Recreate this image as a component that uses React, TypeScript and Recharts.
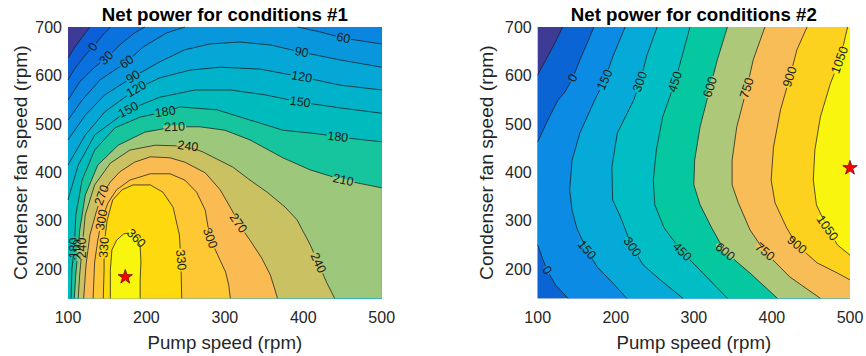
import { ScatterChart, Scatter, XAxis, YAxis, ZAxis } from 'recharts'

type Pt = [number, number]
type Lbl = [number, number, string, number]

const xTicks = [100, 200, 300, 400, 500]
const yTicks = [200, 300, 400, 500, 600, 700]
const X0 = 100
const X1 = 500
const Y0 = 140
const Y1 = 700

// ---- conditions #1 : contour lines (pump rpm, fan rpm)
const levels1 = [-30, 0, 30, 60, 90, 120, 150, 180, 210, 240, 270, 300, 330, 360]
const c1m30: Pt[] = [[100, 636], [109, 659], [119, 681], [128, 700]]
const c1p0: Pt[] = [[100, 591], [109, 615], [122, 642], [132, 659], [143, 681], [154, 700]]
const c1p30: Pt[] = [[100, 549], [115, 587], [134, 617], [149, 636], [166, 663], [185, 688], [198, 700]]
const c1p60a: Pt[] = [[100, 508], [118, 549], [141, 591], [175, 628], [196, 659], [226, 688], [249, 700]]
const c1p60b: Pt[] = [[393, 700], [421, 690], [451, 677], [500, 665]]
const c1p90: Pt[] = [[100, 467], [122, 518], [147, 560], [183, 597], [217, 628], [249, 653], [281, 665], [319, 669], [358, 663], [398, 648], [447, 632], [500, 617]]
const c1p120: Pt[] = [[100, 415], [122, 477], [147, 525], [187, 572], [217, 595], [256, 611], [294, 617], [345, 613], [398, 597], [447, 580], [500, 570]]
const c1p150: Pt[] = [[100, 343], [113, 415], [134, 477], [177, 529], [217, 555], [262, 570], [307, 570], [351, 560], [396, 545], [447, 533], [500, 522]]
const c1p180: Pt[] = [[104, 140], [105, 200], [108, 244], [110, 312], [118, 384], [134, 446], [160, 492], [192, 514], [224, 525], [243, 535], [290, 529], [332, 508], [374, 487], [421, 479], [444, 473], [500, 463]]
const c1p210: Pt[] = [[108, 140], [110, 190], [113, 240], [115, 281], [122, 353], [138, 415], [164, 456], [198, 483], [236, 494], [268, 494], [300, 487], [332, 467], [374, 430], [409, 405], [451, 384], [500, 368]]
const c1p240: Pt[] = [[113, 140], [115, 190], [118, 244], [122, 312], [134, 374], [154, 419], [179, 446], [211, 456], [253, 454], [272, 442], [310, 411], [332, 384], [354, 359], [377, 328], [392, 302], [409, 250], [419, 213], [430, 172], [440, 140]]
const c1p270: Pt[] = [[120, 140], [123, 209], [128, 271], [136, 318], [143, 353], [154, 380], [166, 401], [185, 421], [205, 432], [230, 430], [249, 421], [275, 399], [294, 364], [309, 322], [317, 295], [332, 260], [347, 223], [358, 188], [364, 157], [367, 140]]
const c1p300: Pt[] = [[132, 140], [134, 215], [138, 260], [143, 302], [151, 337], [162, 364], [179, 384], [205, 397], [230, 397], [249, 384], [264, 359], [275, 322], [281, 264], [291, 229], [301, 194], [305, 167], [307, 140]]
const c1p330: Pt[] = [[145, 140], [146, 198], [146, 250], [150, 302], [157, 343], [169, 364], [183, 374], [205, 374], [221, 359], [234, 328], [242, 271], [244, 219], [245, 140]]
const c1p360: Pt[] = [[154, 140], [154, 198], [156, 240], [162, 260], [171, 273], [179, 275], [187, 264], [192, 248], [193, 215], [192, 178], [192, 140]]
const labels1: Lbl[] = [
  [132, 659, '0', -55], [149, 636, '30', -45], [175, 628, '60', -35], [183, 597, '90', -33],
  [187, 572, '120', -30], [177, 529, '150', -28], [224, 525, '180', -8], [236, 494, '210', -2],
  [253, 454, '240', 8], [451, 677, '60', 12], [398, 648, '90', 12], [398, 597, '120', 10],
  [396, 545, '150', 8], [444, 473, '180', 6], [451, 384, '210', 12], [419, 213, '240', 65],
  [317, 295, '270', 55], [281, 264, '300', 70], [244, 219, '330', 85], [187, 264, '360', 45],
  [108, 244, '180', -90], [113, 240, '210', -90], [118, 244, '240', -90], [143, 353, '270', -70],
  [143, 302, '300', -80], [146, 245, '330', -85],
]
const star1 = [{ x: 173, y: 184 }]
const colors1 = ['#3e3b97', '#0c5fd6', '#0a72de', '#0a85e0', '#0897dd', '#04a7d6', '#00b3cb', '#00bbbd',
  '#16c59e', '#9dc87b', '#cac163', '#fbbb53', '#fec834', '#fdd90d', '#f8f50e']

// ---- conditions #2
const levels2 = [-150, 0, 150, 300, 450, 600, 750, 900, 1050]
const c2m150: Pt[] = [[100, 601], [109, 628], [122, 667], [132, 700]]
const c2p0a: Pt[] = [[172, 700], [164, 669], [154, 632], [145, 595], [135, 566], [126, 549], [113, 508], [100, 463]]
const c2p0b: Pt[] = [[100, 250], [106, 223], [112, 198], [123, 167], [139, 140]]
const c2p150: Pt[] = [[212, 700], [196, 638], [186, 591], [173, 549], [154, 481], [144, 425], [141, 364], [144, 322], [150, 285], [163, 240], [176, 205], [196, 172], [214, 140]]
const c2p300: Pt[] = [[253, 700], [240, 642], [231, 587], [223, 549], [202, 481], [195, 411], [196, 343], [205, 312], [221, 246], [235, 209], [257, 178], [286, 140]]
const c2p450: Pt[] = [[295, 700], [286, 646], [276, 587], [260, 514], [252, 446], [248, 384], [250, 333], [262, 285], [285, 236], [308, 198], [343, 140]]
const c2p600: Pt[] = [[343, 700], [330, 632], [321, 576], [308, 494], [301, 425], [300, 374], [308, 333], [323, 285], [340, 236], [372, 192], [407, 140]]
const c2p750: Pt[] = [[391, 700], [376, 632], [368, 574], [355, 494], [349, 425], [349, 374], [357, 337], [372, 281], [391, 236], [423, 184], [462, 140]]
const c2p900: Pt[] = [[445, 700], [432, 653], [423, 597], [411, 529], [402, 452], [399, 384], [404, 337], [419, 285], [432, 250], [458, 213], [484, 192], [500, 178]]
const c2p1050: Pt[] = [[497, 700], [487, 632], [475, 584], [462, 514], [455, 446], [453, 384], [457, 333], [471, 285], [484, 250], [500, 229]]
const labels2: Lbl[] = [
  [145, 595, '0', -60], [186, 591, '150', -65], [231, 587, '300', -70], [276, 587, '450', -72],
  [321, 576, '600', -72], [368, 574, '750', -72], [423, 597, '900', -72], [487, 632, '1050', -70],
  [112, 198, '0', 55], [163, 240, '150', 50], [221, 246, '300', 55], [285, 236, '450', 45],
  [340, 236, '600', 40], [391, 236, '750', 40], [432, 250, '900', 40], [471, 285, '1050', 55],
]
const star2 = [{ x: 500, y: 409 }]
const colors2 = ['#3e3b97', '#0b64d4', '#0b8be4', '#06aad8', '#00bec4', '#05c8a0', '#aec87a', '#f8bd56', '#fdd21f', '#f9f50f']

const box: Pt[] = [[X0, Y0], [X0, Y1], [X1, Y1], [X1, Y0]]

// filled areas = region above each level, painted from low to high
const fills1: Pt[][] = [
  box,
  [...c1m30, [X1, Y1], [X1, Y0], [X0, Y0]],
  [...c1p0, [X1, Y1], [X1, Y0], [X0, Y0]],
  [...c1p30, [X1, Y1], [X1, Y0], [X0, Y0]],
  [...c1p60a, ...c1p60b, [X1, Y0], [X0, Y0]],
  [...c1p90, [X1, Y0], [X0, Y0]],
  [...c1p120, [X1, Y0], [X0, Y0]],
  [...c1p150, [X1, Y0], [X0, Y0]],
  [...c1p180, [X1, Y0]],
  [...c1p210, [X1, Y0]],
  c1p240, c1p270, c1p300, c1p330, c1p360,
]
const lines1 = [c1m30, c1p0, c1p30, c1p60a, c1p60b, c1p90, c1p120, c1p150, c1p180, c1p210, c1p240, c1p270, c1p300, c1p330, c1p360]

const fills2: Pt[][] = [
  box,
  [...c2m150, [X1, Y1], [X1, Y0], [X0, Y0]],
  [...c2p0a, ...c2p0b, [X1, Y0], [X1, Y1]],
  [...c2p150, [X1, Y0], [X1, Y1]],
  [...c2p300, [X1, Y0], [X1, Y1]],
  [...c2p450, [X1, Y0], [X1, Y1]],
  [...c2p600, [X1, Y0], [X1, Y1]],
  [...c2p750, [X1, Y0], [X1, Y1]],
  [...c2p900, [X1, Y1]],
  [...c2p1050, [X1, Y1]],
]
const lines2 = [c2m150, c2p0a, c2p0b, c2p150, c2p300, c2p450, c2p600, c2p750, c2p900, c2p1050]

const toXY = (pts: Pt[]) => pts.map(([x, y]) => ({ x, y }))
const NoDot = () => <g />
const axisColor = '#262626'

function makeLabel(levels: number[], colors: string[]) {
  return (props: any) => {
    const { cx, cy } = props
    const p = props.payload || props
    const w = p.t.length * 6.9 + 2
    const bg = colors[levels.indexOf(Number(p.t)) + 1]
    return (
      <g transform={`rotate(${p.a} ${cx} ${cy})`}>
        <rect x={cx - w / 2} y={cy - 1.5} width={w} height={3} fill={bg} />
        <text x={cx} y={cy} textAnchor="middle" dominantBaseline="central" fontSize={12.5} fill="#1a1a1a">
          {p.t}
        </text>
      </g>
    )
  }
}

// rotated y-axis title, drawn by hand so it is never wrapped
function yTitle(dx: number) {
  return (props: any) => {
    const vb = props.viewBox || {}
    const x = vb.x + dx
    const y = vb.y + vb.height / 2
    return (
      <text
        x={x} y={y} transform={`rotate(-90 ${x} ${y})`} textAnchor="middle" dy="0.355em"
        fontSize={19.2} fill={axisColor}
      >
        Condenser fan speed (rpm)
      </text>
    )
  }
}

type PanelProps = {
  title: string
  fills: Pt[][]
  lines: Pt[][]
  labels: Lbl[]
  levels: number[]
  colors: string[]
  star: { x: number; y: number }[]
  left: number
  right: number
  labelOffset: number
}

function Panel({ title, fills, lines, labels, levels, colors, star, left, right, labelOffset }: PanelProps) {
  const plotLeft = left + 60
  const plotWidth = 433 - plotLeft - right
  return (
    <div style={{ position: 'relative', width: 433, height: 356 }}>
      <div
        style={{
          position: 'absolute', top: 6, left: plotLeft, width: plotWidth, textAlign: 'center',
          fontSize: 18.7, lineHeight: '18.7px', fontWeight: 'bold', color: '#000', whiteSpace: 'nowrap',
        }}
      >
        {title}
      </div>
      <ScatterChart width={433} height={356} margin={{ top: 27, right, bottom: 27.7, left }}>
        <XAxis
          type="number" dataKey="x" domain={[X0, X1]} ticks={xTicks} axisLine={false} tickLine={false}
          tickSize={0} tickMargin={13} tick={{ fontSize: 16, fill: axisColor }} height={30}
          label={{ value: 'Pump speed (rpm)', position: 'bottom', offset: 7, fontSize: 18.7, fill: axisColor }}
        />
        <YAxis
          type="number" dataKey="y" domain={[Y0, Y1]} ticks={yTicks} axisLine={false} tickLine={false}
          tickSize={0} tickMargin={6} tick={{ fontSize: 16, fill: axisColor }} width={60}
          label={{ position: 'insideLeft', content: yTitle(labelOffset) }}
        />
        <ZAxis range={[90, 90]} />
        {fills.map((pts, i) => (
          <Scatter
            key={`f${i}`} data={toXY(pts)} fill={colors[i]} shape={NoDot}
            line={{ fill: colors[i], stroke: 'none' }} isAnimationActive={false}
          />
        ))}
        {lines.map((pts, i) => (
          <Scatter
            key={`l${i}`} data={toXY(pts)} fill="none" shape={NoDot}
            line={{ stroke: '#1c1c1c', strokeWidth: 0.75, fill: 'none' }} isAnimationActive={false}
          />
        ))}
        <Scatter
          data={labels.map(([x, y, t, a]) => ({ x, y, t, a }))}
          shape={makeLabel(levels, colors)} isAnimationActive={false}
        />
        <Scatter data={star} shape="star" fill="#ff0000" stroke="#6b0000" strokeWidth={0.8} isAnimationActive={false} />
      </ScatterChart>
    </div>
  )
}

export default function App() {
  return (
    <div
      style={{
        position: 'absolute', left: 0, top: 0, width: 866, height: 356, display: 'flex', background: '#fff',
        fontFamily: "'Liberation Sans', Arial, Helvetica, sans-serif",
      }}
    >
      <Panel
        title="Net power for conditions #1" fills={fills1} lines={lines1} labels={labels1}
        levels={levels1} colors={colors1} star={star1} left={8} right={51.3} labelOffset={12}
      />
      <Panel
        title="Net power for conditions #2" fills={fills2} lines={lines2} labels={labels2}
        levels={levels2} colors={colors2} star={star2} left={44.7} right={16} labelOffset={8}
      />
    </div>
  )
}
